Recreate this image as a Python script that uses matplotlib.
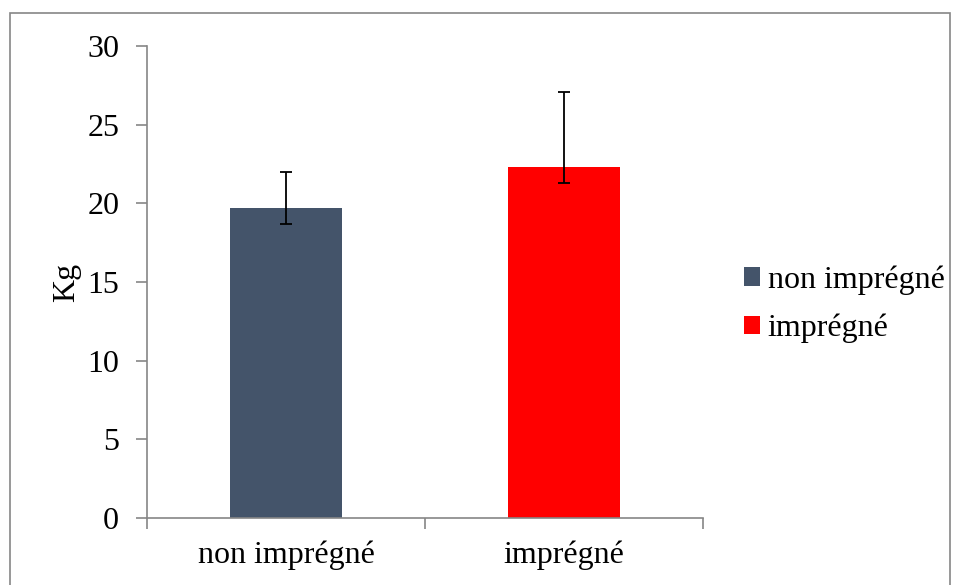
import matplotlib.pyplot as plt
from matplotlib.patches import Rectangle

# donnees
categories = ["non imprégné", "imprégné"]
valeurs = [19.7, 22.3]
err_bas = [1.0, 1.0]
err_haut = [2.3, 4.8]
couleurs = ["#44546A", "#FF0000"]

plt.rcParams['font.family'] = ['Liberation Serif', 'DejaVu Serif']
gris = "#868686"

fig = plt.figure(figsize=(9.58, 5.85), dpi=100)
ax = fig.add_axes([0.1534, 0.1145, 0.5804, 0.8069])

x = list(range(len(categories)))
for i in x:
    ax.bar(x[i], valeurs[i], width=0.4, color=couleurs[i], label=categories[i], zorder=2)
ax.errorbar(x, valeurs, yerr=[err_bas, err_haut], fmt="none", ecolor="black",
            elinewidth=1.3, capsize=4.5, capthick=1.3, zorder=3)

ax.set_xlim(-0.5, 1.5)
ax.set_ylim(0, 30)
ax.set_yticks(range(0, 31, 5))
ax.set_xticks([-0.5, 0.5, 1.5])
ax.set_xticklabels([])
ax.set_xticks(x, minor=True)
ax.set_xticklabels(categories, minor=True)
ax.tick_params(axis="x", which="minor", length=0, pad=16, labelsize=23)
ax.tick_params(axis="x", which="major", length=8, color=gris, width=1.2)
ax.tick_params(axis="y", length=8, color=gris, width=1.2, labelsize=23, pad=12)

for s in ["top", "right"]:
    ax.spines[s].set_visible(False)
for s in ["left", "bottom"]:
    ax.spines[s].set_color(gris)
    ax.spines[s].set_linewidth(1.2)

ax.set_ylabel("Kg", fontsize=23, labelpad=4)

ax.legend(loc="center left", bbox_to_anchor=(0.763, 0.48), bbox_transform=fig.transFigure,
          frameon=False, fontsize=23, handlelength=0.5, handleheight=0.5,
          handletextpad=0.25, labelspacing=0.58, borderaxespad=0)

# cadre du graphique
fig.patches.append(Rectangle((10 / 958, -0.01), 940 / 958, 1.01 - 13 / 585, transform=fig.transFigure,
                             fill=False, edgecolor=gris, linewidth=1.2))

plt.savefig("out.png", dpi=100)
